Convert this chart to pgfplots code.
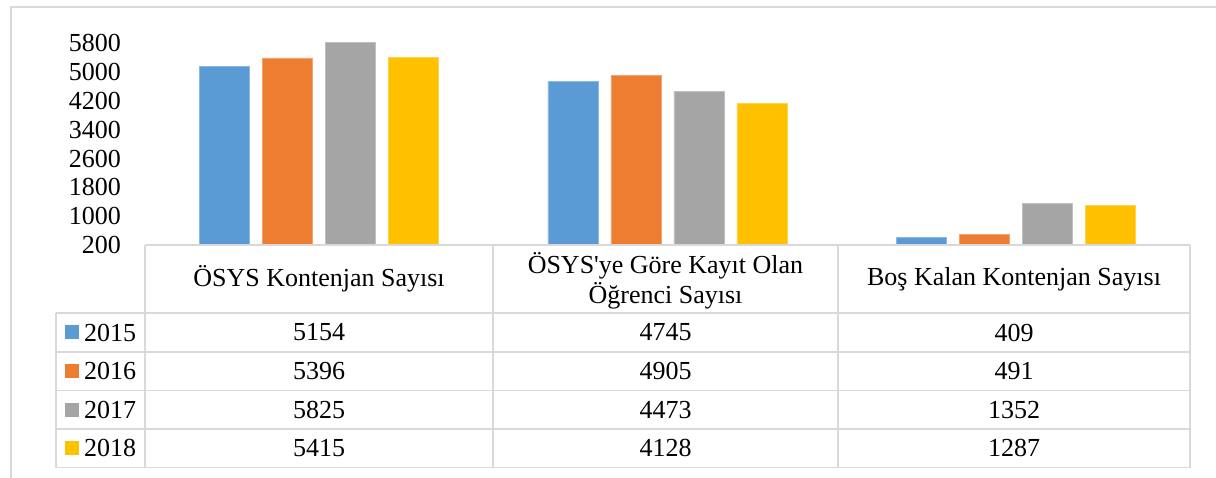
\documentclass[border=0pt]{standalone}
\usepackage{pgfplots}
\pgfplotsset{compat=1.18}
\usepackage{fontspec}
\setmainfont{Liberation Serif}[Ligatures=TeXOff]
\definecolor{cBlue}{HTML}{5B9BD5}
\definecolor{cOrange}{HTML}{ED7D31}
\definecolor{cGray}{HTML}{A5A5A5}
\definecolor{cGold}{HTML}{FFC000}
\definecolor{gridc}{HTML}{D9D9D9}
\newcommand{\chartfont}{\fontsize{26}{30}\selectfont}
\begin{document}
\begin{tikzpicture}[x=1pt,y=1pt]
\useasboundingbox (0,0) rectangle (1216,478);
\fill[white] (0,0) rectangle (1216,478);
\draw[gridc, line width=1.5pt] (11,0) -- (11,471) -- (1216,471);
\begin{axis}[
  at={(145pt,233pt)}, anchor=south west,
  scale only axis, width=1045pt, height=203.4pt,
  xmin=-0.5, xmax=2.5, ymin=200, ymax=5850,
  axis line style={draw=none},
  major tick length=0pt,
  xtick=\empty,
  ytick={200,1000,1800,2600,3400,4200,5000,5800},
  /pgf/number format/assume math mode=true,
  /pgf/number format/1000 sep={},
  yticklabel style={font=\chartfont, anchor=east, xshift=-24pt, inner sep=0pt},
  ybar=13pt, bar width=50pt,
]
\addplot[fill=cBlue, draw=cBlue!70!white, line width=0.8pt] coordinates {(0,5154) (1,4745) (2,409)};
\addplot[fill=cOrange, draw=cOrange!70!white, line width=0.8pt] coordinates {(0,5396) (1,4905) (2,491)};
\addplot[fill=cGray, draw=cGray!70!white, line width=0.8pt] coordinates {(0,5825) (1,4473) (2,1352)};
\addplot[fill=cGold, draw=cGold!70!white, line width=0.8pt] coordinates {(0,5415) (1,4128) (2,1287)};
\end{axis}
% data table grid
\begin{scope}[gridc, line width=1.5pt]
\draw (145,233) -- (1190,233);
\draw (56,165) -- (1190,165);
\draw (56,126) -- (1190,126);
\draw (56,87.5) -- (1190,87.5);
\draw (56,49) -- (1190,49);
\draw (56,10.3) -- (1190,10.3);
\draw (56,10.3) -- (56,165);
\draw (145,10.3) -- (145,233);
\draw (493,10.3) -- (493,233);
\draw (838,10.3) -- (838,233);
\draw (1190,10.3) -- (1190,233);
\end{scope}
\begin{scope}[every node/.style={font=\chartfont, inner sep=0pt}]
\node at (319,199) {ÖSYS Kontenjan Sayısı};
\node[align=center] at (665.5,197) {ÖSYS'ye Göre Kayıt Olan\\Öğrenci Sayısı};
\node at (1014,199) {Boş Kalan Kontenjan Sayısı};
% legend keys
\fill[cBlue] (65,138.5) rectangle (79,152.5);
\fill[cOrange] (65,100) rectangle (79,114);
\fill[cGray] (65,61) rectangle (79,75);
\fill[cGold] (65,23) rectangle (79,37);
\node[anchor=west] at (84,145.5) {2015};
\node[anchor=west] at (84,107) {2016};
\node[anchor=west] at (84,68) {2017};
\node[anchor=west] at (84,30) {2018};
\node at (319,145.5) {5154};
\node at (319,107) {5396};
\node at (319,68) {5825};
\node at (319,30) {5415};
\node at (665.5,145.5) {4745};
\node at (665.5,107) {4905};
\node at (665.5,68) {4473};
\node at (665.5,30) {4128};
\node at (1014,145.5) {409};
\node at (1014,107) {491};
\node at (1014,68) {1352};
\node at (1014,30) {1287};
\end{scope}
\end{tikzpicture}
\end{document}
